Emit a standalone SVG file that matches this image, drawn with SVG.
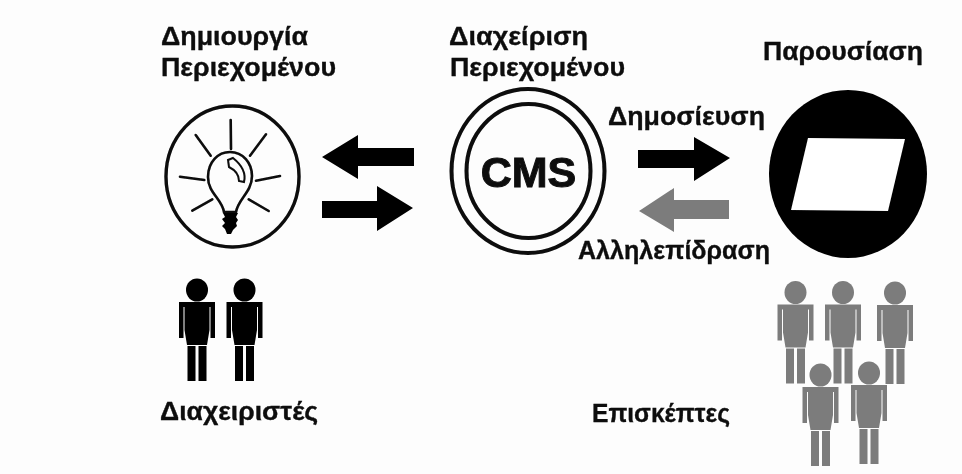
<svg xmlns="http://www.w3.org/2000/svg" xmlns:xlink="http://www.w3.org/1999/xlink" width="962" height="474" viewBox="0 0 962 474">
<style>
text{font-family:"Liberation Sans",Arial,sans-serif;font-weight:700;font-size:25px;fill:#0a0a0a;stroke:#0a0a0a;stroke-width:0.3}
.ring{fill:none;stroke:#0a0a0a;stroke-width:4}
.ray{fill:none;stroke:#0a0a0a;stroke-width:2.6;stroke-linecap:round}
.blk{fill:#050505}
.gry{fill:#7c7c7c}
</style>
<defs>
<filter id="soft" x="-2%" y="-2%" width="104%" height="104%"><feGaussianBlur stdDeviation="0.45"/></filter>
<g id="person">
<ellipse cx="0" cy="0" rx="11" ry="11.5"/>
<path d="M-18 12H18V48H13.5V17H12.5V40L10 55H-10L-12.5 40V17H-13.5V48H-18Z"/>
<rect x="-9.5" y="56" width="8" height="35"/>
<rect x="1.5" y="56" width="8" height="35"/>
</g>
</defs>
<rect width="962" height="474" fill="#fdfdfd"/>
<g filter="url(#soft)">
<g id="connectors">
<path class="blk" d="M322 157L358 135V148H414V166H358V179Z"/>
<path class="blk" d="M322 201H377V186L413 208L377 231V218H322Z"/>
<path class="blk" d="M638 150H694V137L730 158L694 181V168H638Z"/>
<path class="gry" d="M639 211L674 188V200H729V219H674V232Z"/>
</g>
<g id="node-create">
<text x="161" y="45" textLength="147" lengthAdjust="spacingAndGlyphs">Δημιουργία</text>
<text x="161" y="76" textLength="175" lengthAdjust="spacingAndGlyphs">Περιεχομένου</text>
<ellipse class="ring" cx="232.5" cy="176.5" rx="66.5" ry="70.5" style="stroke-width:3.4"/>
<path class="ray" d="M230.7 120L231 149M195.7 135L210.7 155.7M266 134.3L250 155.7M180 176.7L204.3 180M280 176L256 180.7M192.3 210.7L212.3 199.3M268.7 211L248.7 199.3"/>
<path class="ray" d="M224 212C222 199 208 193 208 177C208 162 218 152 230 152C243 152 252 163 252 176C252 192 238 199 236 212Z"/>
<path class="ray" style="stroke-width:2" d="M228 160L233 158C243 166 246 174 244 182L239 181C239 174 235 170 229 167Z"/>
<path class="blk" d="M223 213H238L236 217L238 220L236 223L237 226L233 230L231 234H227L225 229L222 226L225 223L222 219L225 217Z"/>
</g>
<g id="node-admins">
<use xlink:href="#person" href="#person" x="197" y="290" class="blk"/>
<use xlink:href="#person" href="#person" x="244.5" y="290" class="blk"/>
<text x="160" y="420" textLength="158" lengthAdjust="spacingAndGlyphs">Διαχειριστές</text>
</g>
<g id="node-cms">
<text x="449" y="45" textLength="139" lengthAdjust="spacingAndGlyphs">Διαχείριση</text>
<text x="450" y="76" textLength="175" lengthAdjust="spacingAndGlyphs">Περιεχομένου</text>
<ellipse class="ring" cx="528" cy="171" rx="76.5" ry="82"/>
<ellipse class="ring" cx="528.5" cy="171" rx="62" ry="67"/>
<text x="528.5" y="187" text-anchor="middle" style="font-size:43px;stroke-width:1">CMS</text>
</g>
<g id="node-present">
<text x="763" y="60" textLength="160" lengthAdjust="spacingAndGlyphs">Παρουσίαση</text>
<ellipse class="blk" cx="848" cy="174" rx="79" ry="84"/>
<path fill="#fff" d="M808 138L905 139L888 211L791 210Z"/>
</g>
<g id="label-publish"><text x="608" y="125" textLength="157" lengthAdjust="spacingAndGlyphs">Δημοσίευση</text></g>
<g id="label-interact"><text x="578" y="259" textLength="192" lengthAdjust="spacingAndGlyphs">Αλληλεπίδραση</text></g>
<g id="node-visitors">
<use xlink:href="#person" href="#person" x="795.5" y="292.5" class="gry"/>
<use xlink:href="#person" href="#person" x="843" y="292.5" class="gry"/>
<use xlink:href="#person" href="#person" x="895" y="293" class="gry"/>
<use xlink:href="#person" href="#person" x="820.5" y="375" class="gry"/>
<use xlink:href="#person" href="#person" x="869" y="373" class="gry"/>
<text x="592" y="422" textLength="138" lengthAdjust="spacingAndGlyphs">Επισκέπτες</text>
</g>
</g>
</svg>
